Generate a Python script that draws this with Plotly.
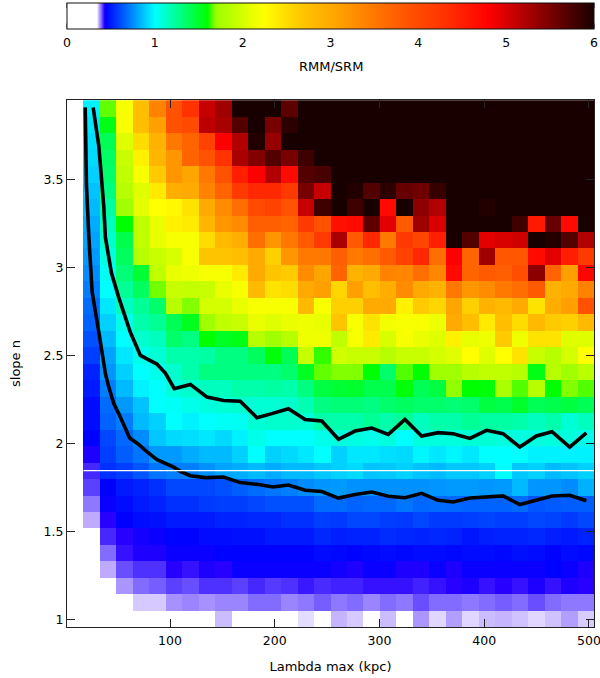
import plotly.graph_objects as go

lambda_max = [9.5, 25.2, 40.9, 56.7, 72.4, 88.1, 103.8, 119.6, 135.3, 151.0, 166.8, 182.5, 198.2, 213.9, 229.7, 245.4,
              261.1, 276.8, 292.6, 308.3, 324.0, 339.8, 355.5, 371.2, 386.9, 402.7, 418.4, 434.1, 449.8, 465.6, 481.3, 497.0]
slope_n = [1.003, 1.097, 1.190, 1.284, 1.377, 1.471, 1.565, 1.658, 1.752, 1.845, 1.939, 2.033, 2.126, 2.220, 2.313, 2.407,
           2.500, 2.594, 2.688, 2.781, 2.875, 2.968, 3.062, 3.156, 3.249, 3.343, 3.436, 3.530, 3.624, 3.717, 3.811, 3.904]

# Ratio per cell, top row (largest slope) first
ratio_top_down = [
 [0,.97,1.66,2.2,2.75,3.4,3.9,4.3,5.1,5.3,6,6,6,5.65,6,6, 6,6,6,6,6,6,6,6,6,6,6,6,6,6,6,6],
 [0,.95,1.55,2.2,2.75,3.1,3.9,4.0,5.15,5.25,5.7,6,5.5,5.9,6,6, 6,6,6,6,6,6,6,6,6,6,6,6,6,6,6,6],
 [0,.93,1.4,2.05,2.5,2.9,3.5,3.7,4.1,4.8,5.2,5.95,5.35,6,6,6, 6,6,6,6,6,6,6,6,6,6,6,6,6,6,6,6],
 [0,.92,1.37,1.95,2.35,2.85,3.2,3.7,3.9,4.3,5.25,5.45,5.7,5.5,5.8,6, 6,6,6,6,6,6,6,6,6,6,6,6,6,6,6,6],
 [0,.9,1.35,1.9,2.2,2.65,3.2,3.05,3.5,3.9,4.5,4.8,5.2,4.7,5.7,5.75, 6,6,6,6,6,6,6,6,6,6,6,6,6,6,6,6],
 [0,.87,1.3,1.85,2.05,2.4,2.95,3.0,3.4,3.7,4.2,4.4,4.4,4.2,5.5,5.1, 6,5.95,5.7,5.9,5.6,5.55,5.85,6,6,6,6,6,6,6,6,6],
 [0,.85,1.22,1.72,2.08,2.25,2.3,2.45,3.0,3.3,3.6,4.0,4.1,3.9,5.1,5.8, 6,5.8,6,4.7,6,5.4,5.2,6,6,5.95,6,6,6,6,6,6],
 [0,.82,1.15,1.6,1.9,2.1,2.35,2.4,2.85,3.2,3.3,3.75,3.75,3.7,4.2,3.9, 4.65,4.7,5.65,4.95,3.8,5.3,5.0,6,6,6,6,5.8,4.55,5.6,4.7,6],
 [0,.8,1.12,1.42,1.9,2.1,2.2,2.2,2.5,2.8,2.95,3.6,3.2,3.5,3.8,4.2, 5.25,3.8,4.4,3.5,4.2,4.05,4.5,6,5.7,4.95,5,5.05,6,5.95,5.7,5.2],
 [0,.78,1.07,1.38,1.85,1.95,2.02,2.2,2.7,2.7,2.75,3.0,2.6,3.2,3.5,3.5, 3.75,3.5,3.6,3.8,4.1,4.4,3.6,4.8,3.7,5.3,3.85,3.85,4.7,4.95,4.5,4.2],
 [0,.75,1.03,1.32,1.48,1.9,2.1,2.15,2.2,2.2,2.4,3.0,2.7,2.65,3.3,3.05, 3.7,2.9,3.0,3.4,3.35,3.6,3.35,4.7,3.7,3.8,3.75,3.95,5.4,3.7,3.1,4.75],
 [0,.72,1.0,1.25,1.38,1.67,1.95,1.92,1.95,2.1,2.2,2.8,2.45,2.5,3.0,3.1, 2.55,3.1,2.75,2.95,3.3,3.0,2.9,3.5,3.2,3.3,3.5,3.6,3.8,2.9,3.0,3.4],
 [0,.68,.95,1.15,1.25,1.35,1.85,1.68,2.0,2.0,2.1,2.2,2.2,2.2,2.8,2.2, 2.6,2.6,3.0,3.0,2.35,2.65,2.55,3.05,2.6,2.9,2.8,3.0,2.45,2.95,3.1,3.9],
 [0,.66,.9,1.05,1.2,1.25,1.4,1.53,1.72,1.9,1.95,2.1,2.05,2.1,2.15,2.1, 2.7,2.2,2.45,2.17,2.2,2.2,2.13,3.0,2.75,2.4,2.75,2.5,2.8,2.65,2.6,2.8],
 [0,.62,.85,1.0,1.12,1.15,1.35,1.3,1.6,1.52,1.55,1.85,1.72,1.85,2.15,2.15, 1.9,2.2,2.4,2.02,2.2,2.1,2.05,2.35,2.1,2.15,2.65,2.15,2.45,2.45,2.05,2.05],
 [0,.58,.8,.95,1.05,1.1,1.2,1.2,1.22,1.3,1.3,1.38,1.58,1.4,1.95,1.63, 1.98,1.95,1.95,1.85,1.95,1.95,2.0,2.05,2.25,2.05,2.25,2.45,1.95,1.85,2.0,2.25],
 [0,.52,.77,.9,1.0,1.05,1.12,1.2,1.3,1.3,1.3,1.3,1.3,1.35,1.52,1.66, 1.68,1.68,1.6,1.35,1.65,1.6,1.72,1.72,1.85,1.9,1.9,1.85,1.55,1.85,1.72,1.87],
 [0,.5,.72,.85,.97,1.0,1.08,1.12,1.15,1.15,1.2,1.2,1.22,1.2,1.3,1.45, 1.48,1.5,1.42,1.42,1.58,1.4,1.45,1.7,1.6,1.58,1.78,1.65,1.85,1.6,1.68,1.65],
 [0,.47,.68,.78,.87,1.0,1.02,1.05,1.08,1.1,1.12,1.1,1.1,1.12,1.18,1.3, 1.32,1.32,1.3,1.35,1.38,1.35,1.35,1.33,1.35,1.45,1.42,1.5,1.4,1.42,1.45,1.4],
 [0,.47,.66,.72,.85,.9,1.0,.97,1.0,1.02,1.03,1.1,1.12,1.12,1.1,1.2, 1.2,1.2,1.25,1.2,1.25,1.15,1.2,1.2,1.25,1.22,1.22,1.2,1.15,1.2,1.1,1.15],
 [0,.45,.6,.67,.75,.88,.92,.93,.95,.92,.97,1.05,1.0,1.0,1.0,1.05, 1.08,1.07,1.05,1.08,1.0,1.08,1.08,1.08,1.1,1.1,1.08,1.07,1.08,1.08,1.08,1.05],
 [0,.43,.58,.65,.7,.78,.78,.82,.85,.85,.9,1.0,.9,.92,.95,1.0, .9,.95,.95,.93,.92,.98,.95,.98,.95,1.0,1.0,1.0,.97,.97,.97,.97],
 [0,.413,.55,.58,.63,.7,.72,.72,.76,.8,.82,.85,.82,.85,.85,.88, .9,.92,.87,.88,.9,.87,.85,.88,.88,.9,1.0,.88,.9,.85,.87,.9],
 [0,.405,.445,.5,.52,.55,.6,.6,.6,.62,.65,.68,.7,.72,.75,.77, .78,.76,.76,.76,.76,.76,.77,.78,.78,.77,.78,.85,.77,.77,.75,.83],
 [0,.385,.44,.47,.5,.52,.55,.55,.57,.58,.58,.6,.62,.62,.62,.68, .68,.66,.67,.67,.7,.67,.68,.67,.66,.66,.66,.68,.63,.64,.65,.65],
 [0,.365,.425,.445,.47,.48,.5,.5,.5,.52,.52,.53,.53,.55,.55,.58, .57,.6,.6,.58,.57,.6,.57,.57,.58,.59,.58,.58,.6,.59,.57,.6],
 [0,0,.413,.425,.435,.44,.45,.45,.47,.47,.48,.48,.5,.5,.5,.53, .51,.52,.52,.54,.53,.52,.53,.52,.49,.51,.52,.52,.53,.51,.5,.52],
 [0,0,.39,.42,.43,.43,.44,.44,.44,.45,.45,.45,.45,.45,.45,.47, .46,.45,.46,.47,.46,.47,.47,.46,.47,.47,.46,.48,.47,.45,.47,.46],
 [0,0,.365,.40,.41,.41,.425,.42,.43,.425,.44,.44,.44,.44,.44,.44, .435,.43,.44,.44,.43,.43,.44,.43,.44,.44,.44,.44,.44,.45,.44,.43],
 [0,0,0,.373,.39,.395,.405,.40,.41,.41,.405,.413,.407,.41,.418,.412, .415,.415,.42,.42,.42,.415,.42,.425,.43,.42,.425,.42,.43,.42,.43,.425],
 [0,0,0,0,.356,.356,.375,.38,.375,.38,.38,.39,.39,.38,.385,.395, .385,.39,.38,.39,.385,.40,.39,.39,.385,.39,.395,.39,.40,.39,.385,.385],
 [0,0,0,0,0,0,0,0,0,.36,0,0,0,0,.35,0, .362,.356,0,.36,.34,.373,.352,.37,.352,.36,.362,.358,.352,.358,.37,.355],
]

lower_x = [19, 19.4, 20.2, 22.4, 24, 25.6, 32, 38.3, 41.5, 46.3, 51, 55.8, 61.5, 70.1, 78.1, 87.6, 103.5, 109.8, 119.4,
           133.7, 151.1, 167, 182.9, 198.2, 213, 229, 244.9, 260.8, 276.6, 292.6, 308.4, 324.3, 340.2, 356, 370.4, 386.3,
           402.2, 418, 434, 449.8, 464.7, 481.6, 497.5]
lower_y = [3.91, 3.731, 3.466, 3.182, 2.973, 2.86, 2.633, 2.396, 2.32, 2.226, 2.169, 2.102, 2.03, 1.994, 1.951, 1.907, 1.865,
           1.841, 1.816, 1.805, 1.809, 1.777, 1.767, 1.752, 1.763, 1.733, 1.726, 1.689, 1.709, 1.723, 1.699, 1.691, 1.716,
           1.676, 1.667, 1.689, 1.693, 1.701, 1.652, 1.676, 1.701, 1.705, 1.674]
upper_x = [26.6, 32, 36.7, 38.3, 44, 51, 62.2, 71.7, 87.6, 95.5, 104.1, 119.4, 135.3, 151.1, 167, 182.9, 197.2, 213, 229, 244.9,
           260.8, 276.6, 292.6, 308.4, 324.3, 340.2, 356, 370.4, 386.3, 402.2, 418, 434, 449.8, 464.7, 481.6, 497.5]
upper_y = [3.91, 3.69, 3.35, 3.17, 2.97, 2.83, 2.63, 2.50, 2.45, 2.40, 2.311, 2.335, 2.263, 2.244, 2.239, 2.146, 2.169, 2.197,
           2.136, 2.127, 2.023, 2.07, 2.087, 2.051, 2.136, 2.042, 2.061, 2.055, 2.028, 2.074, 2.055, 1.979, 2.042, 2.066,
           1.979, 2.059]
marker_slope = 1.845
marker_x = [17.3, 505]

x_ticks = [100, 200, 300, 400, 500]
y_ticks = [1, 1.5, 2, 2.5, 3, 3.5]
y_labels = ["1", "1.5", "2", "2.5", "3", "3.5"]
bar_ticks = [0, 1, 2, 3, 4, 5, 6]

# value, colour anchors of the map
map_values = [0, .34, .365, .39, .413, .425, .445, 1.0, 1.6, 1.68, 1.72, 1.95, 2.08, 2.25, 2.5, 2.75, 3.0, 3.4, 3.8, 4.3, 4.8, 6.0]
map_colors = ["#ffffff", "#ffffff", "#beaaff", "#826cff", "#4628ff", "#2800ff", "#0000ff", "#00ffff", "#00ff00", "#82ff00",
              "#a0ff00", "#c8ff00", "#e6ff00", "#ffff00", "#ffdc00", "#ffbe00", "#ffaa00", "#ff8200", "#ff5a00", "#ff3200",
              "#ff0000", "#190000"]
colorscale = [[v / 6.0, c] for v, c in zip(map_values, map_colors)]

FONT = "DejaVu Sans"
PLOT_H = 527.2
BAR_TOP = 1.184
BAR_BOTTOM = 1.1356
fig = go.Figure()
fig.add_trace(go.Heatmap(
    x=lambda_max, y=slope_n, z=ratio_top_down[::-1], zmin=0, zmax=6, colorscale=colorscale, zsmooth=False,
    hoverongaps=False,
    colorbar=dict(
        orientation="h", x=0, xanchor="left", xref="paper", len=1, lenmode="fraction",
        y=BAR_TOP, yanchor="top", yref="paper", thickness=25.5, thicknessmode="pixels", xpad=0, ypad=0,
        outlinecolor="#111111", outlinewidth=1, ticks="outside", ticklen=3, tickcolor="rgba(0,0,0,0)", tickwidth=1,
        tickvals=bar_ticks, ticktext=[str(t) for t in bar_ticks], ticklabeloverflow="allow",
        tickfont=dict(family=FONT, size=12.5, color="black"),
    ),
))
for xs, ys in ((lower_x, lower_y), (upper_x, upper_y)):
    fig.add_trace(go.Scatter(x=xs, y=ys, mode="lines", line=dict(color="black", width=3.6), showlegend=False))
fig.add_trace(go.Scatter(x=marker_x, y=[marker_slope, marker_slope], mode="lines",
                         line=dict(color="white", width=1.2), showlegend=False))

axis_style = dict(showgrid=False, zeroline=False, showline=True, linecolor="#222222", linewidth=1, mirror="ticks",
                  ticks="inside", ticklen=8, tickcolor="#222222", tickwidth=1, ticklabeloverflow="allow",
                  tickfont=dict(family=FONT, size=12.5, color="black"))
fig.update_xaxes(range=[1.62, 504.8], tickvals=x_ticks, ticktext=[str(t) for t in x_ticks], ticklabelstandoff=2,
                 title=dict(text="Lambda max (kpc)", standoff=14, font=dict(family=FONT, size=13, color="black")),
                 **axis_style)
fig.update_yaxes(range=[0.956, 3.952], tickvals=y_ticks, ticktext=y_labels,
                 title=dict(text="slope n", standoff=20, font=dict(family=FONT, size=13, color="black")),
                 **axis_style)
fig.update_layout(width=600, height=678, paper_bgcolor="white", plot_bgcolor="white", showlegend=False,
                  margin=dict(l=66.5, r=5.7, t=99.5, b=51.3, autoexpand=False))
fig.add_annotation(text="RMM/SRM", xref="paper", yref="paper", x=0.5, y=1.0635, showarrow=False, yanchor="middle",
                   font=dict(family=FONT, size=13, color="black"))
for t in bar_ticks:
    fig.add_shape(type="line", xref="paper", yref="paper", x0=t / 6, x1=t / 6, y0=BAR_TOP, y1=BAR_TOP - 5 / PLOT_H,
                  line=dict(color="#222222", width=1))
    fig.add_shape(type="line", xref="paper", yref="paper", x0=t / 6, x1=t / 6, y0=BAR_BOTTOM, y1=BAR_BOTTOM + 5 / PLOT_H,
                  line=dict(color="#222222", width=1))
fig.write_html("out.html", config=dict(displayModeBar=False),
               post_script="document.body.style.margin='0';document.body.style.overflow='hidden';")
